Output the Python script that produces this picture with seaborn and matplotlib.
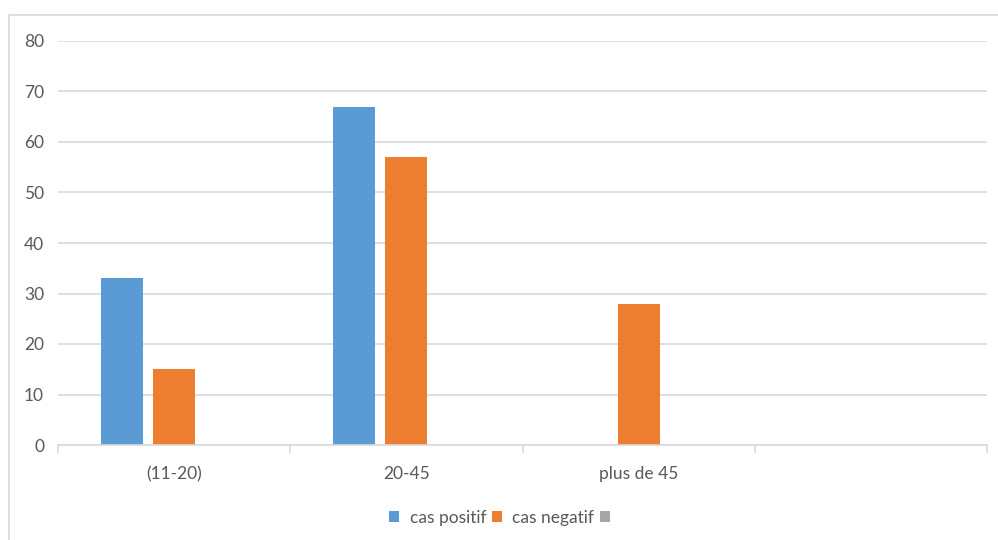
import numpy as np
import pandas as pd
import matplotlib
matplotlib.use("Agg")
import matplotlib.pyplot as plt
from matplotlib.patches import Patch, Rectangle
from matplotlib.ticker import FixedLocator
import seaborn as sns

# Age groups (the fourth slot is an empty category)
categories = ["(11-20)", "20-45", "plus de 45", ""]
series_names = ["cas positif", "cas negatif", " "]
cas_positif = [33, 67, np.nan, np.nan]
cas_negatif = [15, 57, 28, np.nan]
serie_3 = [np.nan, np.nan, np.nan, np.nan]
colors = ["#5B9BD5", "#ED7D31", "#A5A5A5"]
y_ticks = [0, 10, 20, 30, 40, 50, 60, 70, 80]

rows = []
for name, vals in zip(series_names, [cas_positif, cas_negatif, serie_3]):
    for cat, v in zip(categories, vals):
        rows.append({"categorie": cat, "serie": name, "valeur": v})
df = pd.DataFrame(rows)

sns.set_theme(style="white")
plt.rcParams["font.family"] = ["Lato", "DejaVu Sans"]

W, H = 998, 540
fig = plt.figure(figsize=(W / 100, H / 100), dpi=100)
ax = fig.add_axes([58 / W, 1 - 445 / H, (987 - 58) / W, (445 - 41) / H])

sns.barplot(
    data=df, x="categorie", y="valeur", hue="serie",
    order=categories, hue_order=series_names,
    palette=colors, saturation=1, width=0.672, gap=0.19,
    linewidth=0, errorbar=None, legend=False, ax=ax,
)

ax.set_xlim(-0.5, len(categories) - 0.5)
ax.set_ylim(0, 80)
ax.set_yticks(y_ticks)
ax.set_xlabel("")
ax.set_ylabel("")

grid_c = "#D9D9D9"
text_c = "#595959"
fs = 12.5
ax.yaxis.grid(True, color=grid_c, linewidth=1.2)
ax.set_axisbelow(True)
for s in ["left", "right", "top"]:
    ax.spines[s].set_visible(False)
ax.spines["bottom"].set_color(grid_c)
ax.spines["bottom"].set_linewidth(1.2)

ax.tick_params(axis="y", length=0, pad=10, labelsize=fs, labelcolor=text_c)
ax.tick_params(axis="x", which="major", bottom=False, length=0, pad=15,
               labelsize=fs, labelcolor=text_c)
ax.xaxis.set_minor_locator(FixedLocator(np.arange(-0.5, len(categories), 1.0)))
ax.tick_params(axis="x", which="minor", bottom=True, length=6, width=1.2,
               color=grid_c, direction="out")

# Chart frame
fig.patches.append(Rectangle((9 / W, -0.1), 1.2, 1 - 15 / H + 0.1,
                             transform=fig.transFigure, fill=False,
                             edgecolor=grid_c, linewidth=1.2, zorder=0))

handles = [Patch(facecolor=c, edgecolor="none") for c in colors]
fig.legend(handles, series_names, loc="center", bbox_to_anchor=(507 / W, 1 - 518 / H),
           ncol=3, frameon=False, fontsize=fs, labelcolor=text_c,
           handlelength=0.6, handleheight=0.6, handletextpad=0.6,
           columnspacing=0.3, borderaxespad=0)

fig.savefig("out.png", dpi=100)
